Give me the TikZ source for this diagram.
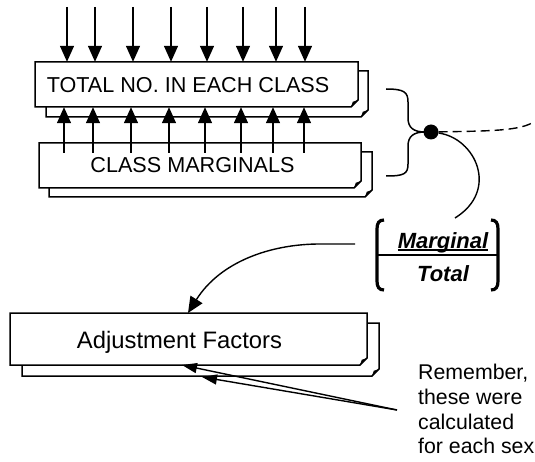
\documentclass[tikz,border=0pt]{standalone}
\usepackage{fontspec}
\setmainfont{Liberation Sans}
\usetikzlibrary{arrows.meta,fit}

% Rectangle with a folded bottom-right corner: left, top, right, bottom
\newcommand\foldedrect[4]{%
  \draw[boxline,fill=white] (#1,#2) -- (#3,#2) -- (#3,#4-7) -- (#3-7,#4) -- (#1,#4) -- cycle;
  \fill (#3,#4-7) -- (#3-7,#4) -- (#3-5.2,#4-5.2) -- cycle;}

\begin{document}
\begin{tikzpicture}[x=1pt,y=-1pt,
  boxline/.style={line width=1.5pt, line join=miter},
  arr/.style={line width=1.4pt, -{Triangle[length=16pt,width=14pt]}},
  slimarr/.style={line width=1.4pt, -{Triangle[length=15pt,width=10pt]}},
  thinline/.style={line width=1.4pt},
  boxtext/.style={font=\fontsize{21.6}{25}\selectfont, inner sep=0, anchor=base},
  areabox/.style={inner sep=0, draw=none},
  ratiotext/.style={font=\fontsize{22}{26}\selectfont\bfseries\itshape, inner sep=0, anchor=base}]
\useasboundingbox (0,0) rectangle (535,462);

% stacked boxes
\foldedrect{46}{71}{368}{117}
\foldedrect{35}{62}{358}{107}
\node[areabox, fit={(35,62)(358,107)}] (total) {};
\node[boxtext] (totaltxt) at (188,93) {TOTAL NO.\ IN EACH CLASS};

\foldedrect{49}{152}{372}{197}
\foldedrect{39}{143}{361}{188}
\node[areabox, fit={(39,143)(361,188)}] (margins) {};
\node[boxtext] (marginstxt) at (192.5,173) {CLASS MARGINALS};

\foldedrect{22}{323}{379}{376}
\foldedrect{10}{313}{367}{365}
\node[areabox, fit={(22,323)(379,376)}] (adjback) {};
\node[areabox, fit={(10,313)(367,365)}] (adj) {};
\node[boxtext, font=\fontsize{23.8}{27}\selectfont] (adjtxt) at (179.5,348) {Adjustment Factors};

% incoming counts
\foreach \x [count=\i] in {67,95,133,171,207,243,276,305} {
  \coordinate (in\i) at (\x,7);
  \draw[arr] (in\i) -- (in\i |- total.north);
}
% marginals feeding up
\foreach \x [count=\i] in {64,93,131,169,205,241,273,304} {
  \coordinate (up\i) at (\x,153);
  \draw[arr] (up\i) -- (up\i |- total.south);
}

% brace joining both boxes
\coordinate (cusp) at (425,132);
\draw[line width=1.5pt] (386,89) .. controls (404,89) and (408,92) .. (408,102) -- (408,118)
  .. controls (408,128) and (414,132) .. (cusp)
  .. controls (414,132) and (408,136) .. (408,146) -- (408,164)
  .. controls (408,174) and (404,176) .. (386,176);

% ratio in brackets
\node[areabox, fit={(377,220)(498,290)}] (ratio) {};
\draw[line width=3.2pt] (384,220) .. controls (379,220) and (377,223) .. (377,229) -- (377,281)
  .. controls (377,287) and (379,290) .. (384,290);
\draw[line width=3.2pt] (491,220) .. controls (496,220) and (498,223) .. (498,229) -- (498,281)
  .. controls (498,287) and (496,290) .. (491,290);
\draw[line width=2.2pt] (ratio.west) -- (ratio.east);
\node[ratiotext] (margword) at (443,248) {Marginal};
\draw[line width=1.4pt] ([yshift=-2pt]margword.base west) -- ([yshift=-2pt]margword.base east);
\node[ratiotext] (totword) at (443,281) {Total};

% hub and its connections
\node[circle, fill, inner sep=0, minimum size=15pt] (hub) at (431,132) {};
\coordinate (onward) at (535,121);
\coordinate (ratiotop) at (455,218);
\draw[thinline, dash pattern=on 9pt off 5pt] (hub) .. controls (490,131) and (522,131) .. (onward);
\draw[thinline] (hub) .. controls (475,138) and (500,190) .. (ratiotop);

% ratio applied to the adjustment factors
\coordinate (ratiostart) at (355,244);
\coordinate (adjin) at (188,313);
\draw[arr] (ratiostart) -- (320,244) .. controls (270,244) and (220,262) .. (adjin);

% note with pointers
\coordinate (notept) at (397,410);
\coordinate (adjfront) at (182,365);
\coordinate (adjrear) at (202,377);
\draw[slimarr] (notept) -- (adjfront);
\draw[slimarr] (notept) -- (adjrear);
\node[font=\fontsize{21.3}{24.7}\selectfont, align=left, anchor=north west, inner sep=0] (note) at (418,364)
  {Remember,\\these were\\calculated\\for each sex};
\end{tikzpicture}
\end{document}
